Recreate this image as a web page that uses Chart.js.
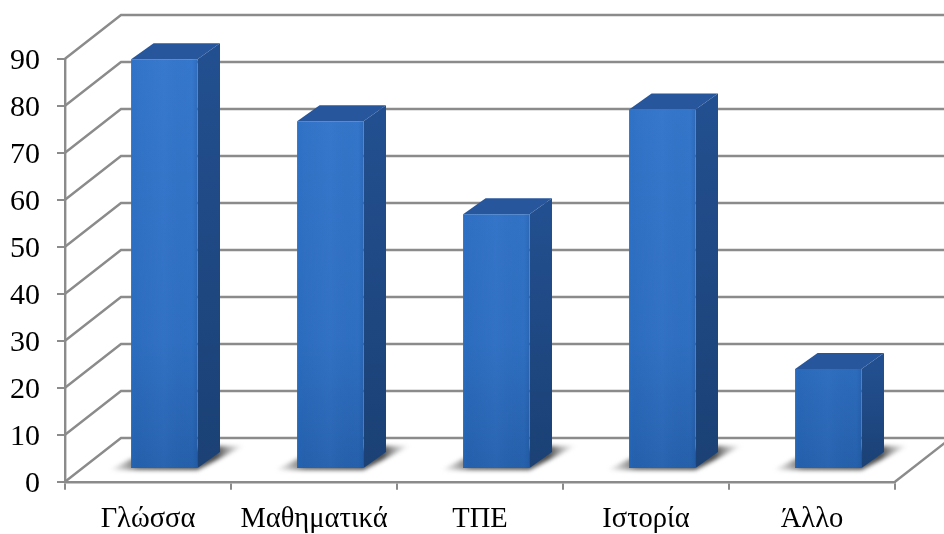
<!DOCTYPE html>
<html>
<head>
<meta charset="utf-8">
<style>
  html, body { margin: 0; padding: 0; background: #ffffff; }
  canvas { display: block; }
</style>
<script src="https://cdn.jsdelivr.net/npm/chart.js@4"></script>
</head>
<body>
<canvas id="chart" width="944" height="534"></canvas>
<script>
const categories = ['Γλώσσα', 'Μαθηματικά', 'ΤΠΕ', 'Ιστορία', 'Άλλο'];
const values = [87.2, 74, 54.2, 76.5, 21.3];
const axisMin = 0;
const axisMax = 90;
const axisStep = 10;

const lineGrey = '#8b8b8b';
const serif = '"Liberation Serif", "Times New Roman", serif';

// Oblique projection used for the box look: wall depth, bar inset, bar depth.
const wall = { dx: 56, dy: 43.7 };
const inset = { dx: 16.3, dy: 12.7 };
const depth = { dx: 22.5, dy: 16 };

function poly(ctx, pts, fill) {
  ctx.beginPath();
  pts.forEach((p, i) => i ? ctx.lineTo(p[0], p[1]) : ctx.moveTo(p[0], p[1]));
  ctx.closePath();
  ctx.fillStyle = fill;
  ctx.fill();
}

function barBox(el) {
  return {
    left: el.x - el.width / 2 + inset.dx,
    right: el.x + el.width / 2 + inset.dx,
    top: el.y - inset.dy,
    bottom: el.base - inset.dy
  };
}

const box3d = {
  id: 'box3d',
  beforeDatasetsDraw(chart) {
    const { ctx, chartArea: area, scales: { y } } = chart;
    ctx.save();

    // Side wall diagonals and back wall lines for every y tick.
    ctx.strokeStyle = lineGrey;
    ctx.lineWidth = 2.4;
    y.ticks.forEach(t => {
      const py = y.getPixelForValue(t.value);
      ctx.beginPath();
      ctx.moveTo(area.left, py);
      ctx.lineTo(area.left + wall.dx, py - wall.dy);
      ctx.lineTo(chart.width, py - wall.dy);
      ctx.stroke();
    });

    // Right edge of the floor.
    const floorY = y.getPixelForValue(axisMin);
    ctx.beginPath();
    ctx.moveTo(area.right, floorY);
    ctx.lineTo(area.right + wall.dx, floorY - wall.dy);
    ctx.stroke();

    const meta = chart.getDatasetMeta(0);

    // Soft floor shadows.
    meta.data.forEach(el => {
      const b = barBox(el);
      const g = ctx.createLinearGradient(b.left - 22, 0, b.right + 46, 0);
      g.addColorStop(0, 'rgba(130,130,130,0)');
      g.addColorStop(0.22, 'rgba(95,95,95,0.95)');
      g.addColorStop(0.8, 'rgba(75,75,75,1)');
      g.addColorStop(1, 'rgba(170,170,170,0.1)');
      ctx.save();
      ctx.filter = 'blur(2px)';
      poly(ctx, [
        [b.left - 22, b.bottom + 2],
        [b.right, b.bottom + 2],
        [b.right + 46, b.bottom - 22],
        [b.right + 20, b.bottom - 22],
        [b.left, b.bottom - 9]
      ], g);
      ctx.restore();
    });

    // Side and top faces of every bar.
    meta.data.forEach(el => {
      const b = barBox(el);
      const side = ctx.createLinearGradient(0, b.top, 0, b.bottom);
      side.addColorStop(0, '#224f8f');
      side.addColorStop(1, '#1b4175');
      poly(ctx, [
        [b.right, b.top],
        [b.right + depth.dx, b.top - depth.dy],
        [b.right + depth.dx, b.bottom - depth.dy],
        [b.right, b.bottom]
      ], side);
      poly(ctx, [
        [b.left, b.top],
        [b.left + depth.dx, b.top - depth.dy],
        [b.right + depth.dx, b.top - depth.dy],
        [b.right, b.top]
      ], '#27569c');
    });

    ctx.restore();

    // Front faces are drawn by the bar elements, pushed back onto the floor.
    ctx.save();
    ctx.translate(inset.dx, -inset.dy);
  },
  afterDatasetsDraw(chart) {
    const { ctx } = chart;
    ctx.restore();

    // Horizontal sheen over each front face.
    chart.getDatasetMeta(0).data.forEach(el => {
      const b = barBox(el);
      const g = ctx.createLinearGradient(b.left, 0, b.right, 0);
      g.addColorStop(0, 'rgba(30,110,200,0.35)');
      g.addColorStop(0.1, 'rgba(30,90,170,0.1)');
      g.addColorStop(0.5, 'rgba(70,130,215,0.12)');
      g.addColorStop(0.92, 'rgba(25,70,140,0)');
      g.addColorStop(1, 'rgba(25,70,140,0.25)');
      ctx.fillStyle = g;
      ctx.fillRect(b.left, b.top, b.right - b.left, b.bottom - b.top);
    });
  }
};

function frontFill(context) {
  const { chart } = context;
  const { chartArea } = chart;
  if (!chartArea) return '#3274c6';
  const g = chart.ctx.createLinearGradient(0, chartArea.top, 0, chartArea.bottom);
  g.addColorStop(0, '#3678cd');
  g.addColorStop(0.7, '#2f6fc1');
  g.addColorStop(1, '#2560ab');
  return g;
}

new Chart(document.getElementById('chart'), {
  type: 'bar',
  data: {
    labels: categories,
    datasets: [{
      data: values,
      backgroundColor: frontFill,
      borderWidth: 0,
      barPercentage: 0.4,
      categoryPercentage: 1
    }]
  },
  options: {
    responsive: false,
    animation: false,
    layout: { padding: { top: 58.7, right: 49, left: 0, bottom: 0 } },
    plugins: { legend: { display: false }, tooltip: { enabled: false }, title: { display: false } },
    scales: {
      x: {
        afterFit(scale) { scale.height = 52.3; },
        border: { display: true, color: lineGrey, width: 2.4 },
        grid: { display: true, drawOnChartArea: false, drawTicks: true, tickLength: 8, color: lineGrey, lineWidth: 2 },
        ticks: { color: '#000000', font: { family: serif, size: 28.5 }, padding: 13, maxRotation: 0, autoSkip: false }
      },
      y: {
        min: axisMin,
        max: axisMax,
        afterFit(scale) { scale.width = 65; },
        border: { display: true, color: lineGrey, width: 2.4 },
        grid: { display: true, drawOnChartArea: false, drawTicks: true, tickLength: 8, color: lineGrey, lineWidth: 2 },
        ticks: { stepSize: axisStep, color: '#000000', font: { family: serif, size: 30 }, padding: 17, labelOffset: 2 }
      }
    }
  },
  plugins: [box3d]
});
</script>
</body>
</html>
